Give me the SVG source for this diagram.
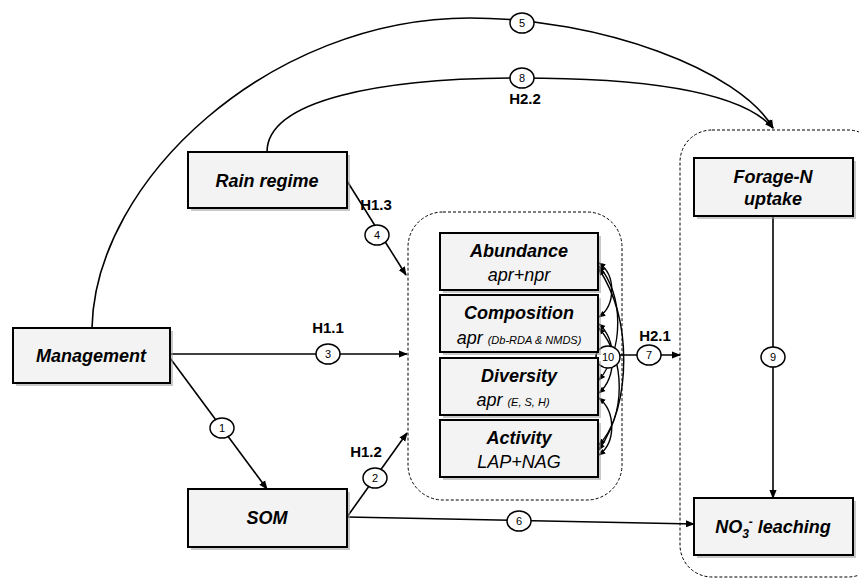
<svg xmlns="http://www.w3.org/2000/svg" width="859" height="579" viewBox="0 0 859 579">
<defs>
<marker id="ah" viewBox="0 0 10 10" refX="9" refY="5" markerWidth="9" markerHeight="9" markerUnits="userSpaceOnUse" orient="auto-start-reverse"><path d="M0,1 L10,5 L0,9 Z" fill="#000"/></marker>
<marker id="ahs" viewBox="0 0 10 10" refX="9" refY="5" markerWidth="7" markerHeight="7" markerUnits="userSpaceOnUse" orient="auto-start-reverse"><path d="M0,1 L10,5 L0,9 Z" fill="#000"/></marker>
</defs>
<style>
.box{fill:#f3f3f3;stroke:#000;stroke-width:2}
.sh{fill:#9a9a9a;opacity:0.55}
.t{font-family:"Liberation Sans",Arial,sans-serif;font-weight:bold;font-style:italic;font-size:18px;fill:#000;text-anchor:middle}
.s{font-family:"Liberation Sans",Arial,sans-serif;font-style:italic;font-size:18px;fill:#000;text-anchor:middle}
.sm{font-size:11px}
.h{font-family:"Liberation Sans",Arial,sans-serif;font-weight:bold;font-size:15px;fill:#000;text-anchor:middle}
.c{fill:#fff;stroke:#000;stroke-width:1.5}
.n{font-family:"Liberation Sans",Arial,sans-serif;font-size:11px;fill:#000;text-anchor:middle}
.ln{fill:none;stroke:#000;stroke-width:1.6}
.dash{fill:none;stroke:#000;stroke-width:1;stroke-dasharray:3,2}
</style>
<rect width="859" height="579" fill="#fff"/>
<g id="containers">
<rect class="dash" x="408" y="212" width="214" height="288" rx="35"/>
<rect class="dash" x="680" y="130" width="200" height="447" rx="32"/>
</g>
<g id="connectors">
<path class="ln" d="M92,328 C95,180 270,18 470,18 C600,18 740,70 773,128" marker-end="url(#ah)"/>
<path class="ln" d="M267,152 C267,100 380,78 520,78 C640,78 740,90 773,128" marker-end="url(#ah)"/>
<path class="ln" d="M170,354 L407,354" marker-end="url(#ah)"/>
<path class="ln" d="M170,358 L267,489" marker-end="url(#ah)"/>
<path class="ln" d="M347,517 L407,433" marker-end="url(#ah)"/>
<path class="ln" d="M347,517 L694,524" marker-end="url(#ah)"/>
<path class="ln" d="M347,181 L406,275" marker-end="url(#ah)"/>
<path class="ln" d="M619,355 L680,355" marker-end="url(#ah)"/>
<path class="ln" d="M773,216 L773,498" marker-end="url(#ah)"/>
<g fill="none" stroke="#000" stroke-width="1.4">
<path d="M599,263 C616,275 616,305 599,317" marker-start="url(#ahs)" marker-end="url(#ahs)"/>
<path d="M599,266 C624,295 624,350 599,380" marker-start="url(#ahs)" marker-end="url(#ahs)"/>
<path d="M599,269 C632,320 632,400 599,450" marker-start="url(#ahs)" marker-end="url(#ahs)"/>
<path d="M599,324 C617,340 617,377 599,393" marker-start="url(#ahs)" marker-end="url(#ahs)"/>
<path d="M599,328 C626,360 626,415 599,445" marker-start="url(#ahs)" marker-end="url(#ahs)"/>
<path d="M599,398 C616,412 616,442 599,455" marker-start="url(#ahs)" marker-end="url(#ahs)"/>
</g>
</g>
<g id="labels">
<text class="h" x="328" y="333">H1.1</text>
<text class="h" x="366" y="457">H1.2</text>
<text class="h" x="376" y="210">H1.3</text>
<text class="h" x="655" y="341">H2.1</text>
<text class="h" x="525" y="104">H2.2</text>
</g>
<g id="badges">
<g id="b1"><ellipse class="c" cx="222" cy="428" rx="12" ry="10"/><text class="n" x="222" y="432">1</text></g>
<g id="b2"><ellipse class="c" cx="375" cy="478" rx="12" ry="10"/><text class="n" x="375" y="482">2</text></g>
<g id="b3"><ellipse class="c" cx="328" cy="354" rx="12" ry="10"/><text class="n" x="328" y="358">3</text></g>
<g id="b4"><ellipse class="c" cx="377" cy="235" rx="12" ry="10"/><text class="n" x="377" y="239">4</text></g>
<g id="b5"><ellipse class="c" cx="522" cy="23" rx="12" ry="10"/><text class="n" x="522" y="27">5</text></g>
<g id="b6"><ellipse class="c" cx="519" cy="521" rx="12" ry="10"/><text class="n" x="519" y="525">6</text></g>
<g id="b7"><ellipse class="c" cx="649" cy="355" rx="12" ry="10"/><text class="n" x="649" y="359">7</text></g>
<g id="b8"><ellipse class="c" cx="522" cy="78" rx="12" ry="10"/><text class="n" x="522" y="82">8</text></g>
<g id="b9"><ellipse class="c" cx="773" cy="357" rx="12" ry="10"/><text class="n" x="773" y="361">9</text></g>
<g id="b10"><ellipse class="c" cx="608" cy="357" rx="12" ry="11"/><text class="n" x="608" y="361">10</text></g>
</g>
<g id="management"><rect class="sh" x="16" y="331" width="157" height="55"/><rect class="box" x="13" y="328" width="157" height="55"/><text class="t" x="91" y="362">Management</text></g>
<g id="rain"><rect class="sh" x="191" y="155" width="159" height="56"/><rect class="box" x="188" y="152" width="159" height="56"/><text class="t" x="267" y="187">Rain regime</text></g>
<g id="som"><rect class="sh" x="191" y="492" width="159" height="58"/><rect class="box" x="188" y="489" width="159" height="58"/><text class="t" x="267" y="524">SOM</text></g>
<g id="forage"><rect class="sh" x="697" y="161" width="159" height="58"/><rect class="box" x="694" y="158" width="159" height="58"/><text class="t" x="773" y="183">Forage-N</text><text class="t" x="773" y="205">uptake</text></g>
<g id="no3"><rect class="sh" x="697" y="501" width="159" height="57"/><rect class="box" x="694" y="498" width="159" height="57"/><text class="t" x="773" y="533">NO<tspan font-size="12" dy="5">3</tspan><tspan font-size="12" dy="-12">-</tspan><tspan dy="7"> leaching</tspan></text></g>
<g id="abundance"><rect class="sh" x="443" y="236" width="158" height="57"/><rect class="box" x="440" y="233" width="158" height="57"/><text class="t" x="519" y="257">Abundance</text><text class="s" x="519" y="281">apr+npr</text></g>
<g id="composition"><rect class="sh" x="443" y="298" width="158" height="57"/><rect class="box" x="440" y="295" width="158" height="57"/><text class="t" x="519" y="319">Composition</text><text class="s" x="519" y="344">apr <tspan class="sm">(Db-RDA &amp; NMDS)</tspan></text></g>
<g id="diversity"><rect class="sh" x="443" y="361" width="158" height="57"/><rect class="box" x="440" y="358" width="158" height="57"/><text class="t" x="519" y="382">Diversity</text><text class="s" x="513" y="406">apr  <tspan class="sm">(E, S, H)</tspan></text></g>
<g id="activity"><rect class="sh" x="443" y="423" width="158" height="57"/><rect class="box" x="440" y="420" width="158" height="57"/><text class="t" x="519" y="444">Activity</text><text class="s" x="519" y="468">LAP+NAG</text></g>
</svg>
